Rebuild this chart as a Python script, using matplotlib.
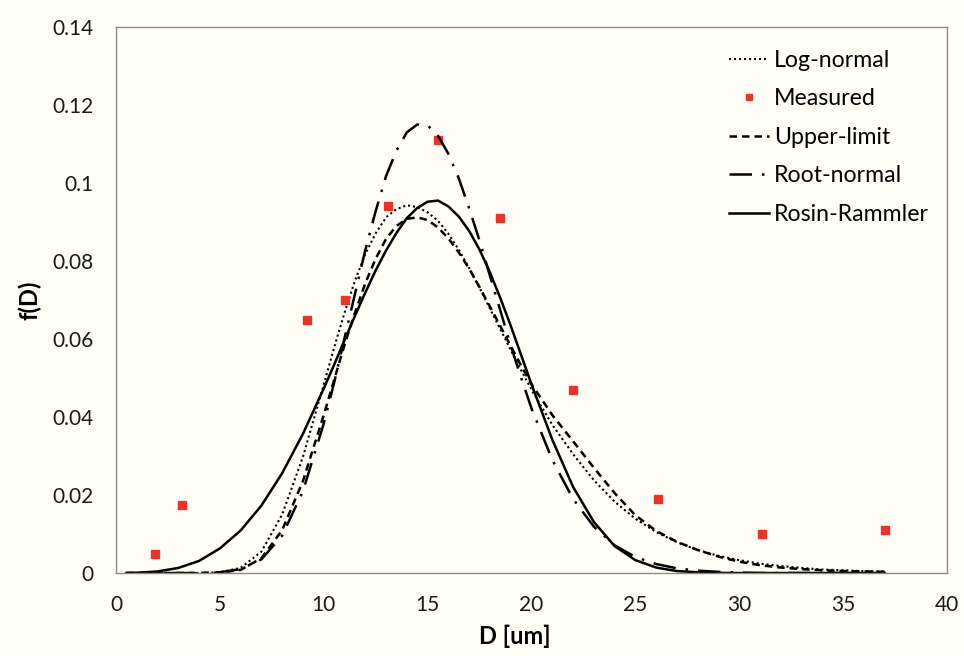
import matplotlib
matplotlib.use('Agg')
import matplotlib.pyplot as plt
from matplotlib.ticker import FuncFormatter

plt.rcParams['font.family'] = ['Lato', 'DejaVu Sans']

# diameters for the fitted curves
D = [0.5, 1, 2, 3, 4, 5, 6, 7, 8, 9, 10,
     10.5, 11, 11.5, 12, 12.5, 13, 13.5, 14, 14.5, 15,
     15.5, 16, 16.5, 17, 17.5, 18, 18.5, 19, 19.5, 20,
     21, 22, 23, 24, 25, 26, 27, 28, 29, 30, 31, 32, 33, 34, 35, 36, 37]

log_normal = [0, 0, 0, 0, 0, 0.0002, 0.0013, 0.0055, 0.0150, 0.0298, 0.0483,
              0.0578, 0.0667, 0.0749, 0.0818, 0.0871, 0.0912, 0.0933, 0.0943, 0.0938, 0.0925,
              0.0903, 0.0870, 0.0829, 0.0782, 0.0731, 0.0678, 0.0625, 0.0572, 0.0520, 0.0470,
              0.0380, 0.0305, 0.0238, 0.0183, 0.0139, 0.0105, 0.0079, 0.0059, 0.0044,
              0.0033, 0.0024, 0.0018, 0.0013, 0.0009, 0.0007, 0.0005, 0.0004]

upper_limit = [0, 0, 0, 0, 0, 0.0001, 0.0008, 0.0038, 0.0110, 0.0236, 0.0405,
               0.0495, 0.0585, 0.0667, 0.0743, 0.0806, 0.0857, 0.0890, 0.0908, 0.0912, 0.0905,
               0.0886, 0.0858, 0.0822, 0.0780, 0.0733, 0.0683, 0.0633, 0.0582, 0.0532, 0.0484,
               0.0405, 0.0338, 0.0270, 0.0205, 0.0148, 0.0108, 0.0080, 0.0059, 0.0042,
               0.0029, 0.0020, 0.0014, 0.0010, 0.0007, 0.0005, 0.0004, 0.0003]

root_normal = [0, 0, 0, 0, 0, 0.0002, 0.0010, 0.0035, 0.0096, 0.0210, 0.0383,
               0.0488, 0.0602, 0.0715, 0.0828, 0.0928, 0.1018, 0.1083, 0.1130, 0.1150, 0.1148,
               0.1121, 0.1075, 0.1012, 0.0935, 0.0852, 0.0762, 0.0673, 0.0583, 0.0501, 0.0422,
               0.0290, 0.0190, 0.0119, 0.0071, 0.0041, 0.0023, 0.0012, 0.0006, 0.0003,
               0.0001, 0, 0, 0, 0, 0, 0, 0]

rosin_rammler = [0, 0.00004, 0.0004, 0.0013, 0.0031, 0.0063, 0.0109, 0.0173, 0.0256, 0.0357, 0.0473,
                 0.0534, 0.0597, 0.0659, 0.0719, 0.0776, 0.0827, 0.0872, 0.0910, 0.0936, 0.0952,
                 0.0955, 0.0940, 0.0914, 0.0877, 0.0829, 0.0771, 0.0705, 0.0634, 0.0559, 0.0484,
                 0.0342, 0.0221, 0.0131, 0.0069, 0.0033, 0.0014, 0.0005, 0.0002, 0.00004,
                 0, 0, 0, 0, 0, 0, 0, 0]

# measured points
D_meas = [1.9, 3.2, 9.2, 11.0, 13.1, 15.5, 18.5, 22.0, 26.1, 31.1, 37.0]
f_meas = [0.005, 0.0175, 0.065, 0.070, 0.094, 0.111, 0.091, 0.047, 0.019,
          0.010, 0.011]

bg = '#fefdf6'
fig = plt.figure(figsize=(9.64, 6.56), dpi=100, facecolor=bg)
ax = fig.add_axes([0.1203, 0.1265, 0.8621, 0.8323], facecolor=bg)

ax.plot(D, log_normal, color='black', lw=1.5, linestyle=(0, (1, 1.4)),
        label='Log-normal')
ax.plot(D_meas, f_meas, 's', color='#e8342a', markersize=6, linestyle='none',
        label='Measured')
ax.plot(D, upper_limit, color='black', lw=1.8, linestyle=(0, (3, 2)),
        label='Upper-limit')
ax.plot(D, root_normal, color='black', lw=1.8, linestyle=(0, (9, 4, 1, 4)),
        label='Root-normal')
ax.plot(D, rosin_rammler, color='black', lw=1.8, label='Rosin-Rammler')

ax.set_xlim(0, 40)
ax.set_ylim(0, 0.14)
ax.set_xticks(range(0, 41, 5))
ax.set_yticks([0, 0.02, 0.04, 0.06, 0.08, 0.1, 0.12, 0.14])
ax.yaxis.set_major_formatter(FuncFormatter(lambda v, p: '{:g}'.format(round(v, 2))))
ax.tick_params(length=0, labelsize=15, pad=16, colors='#1a1a1a')

for s in ax.spines.values():
    s.set_color('#8c8a84')
    s.set_linewidth(1.0)

ax.set_xlabel('D [um]', fontsize=17, fontweight='bold', va='center')
ax.xaxis.set_label_coords(0.48, -0.116)
ax.set_ylabel('f(D)', fontsize=17, fontweight='bold', va='center')
ax.yaxis.set_label_coords(-0.1035, 0.5)

ax.legend(loc='upper left', bbox_to_anchor=(0.712, 0.996), frameon=False,
          fontsize=16.7, handlelength=1.75, handletextpad=0.22,
          labelspacing=0.75, markerscale=0.8)

fig.savefig('out.png', dpi=100, facecolor=bg)
